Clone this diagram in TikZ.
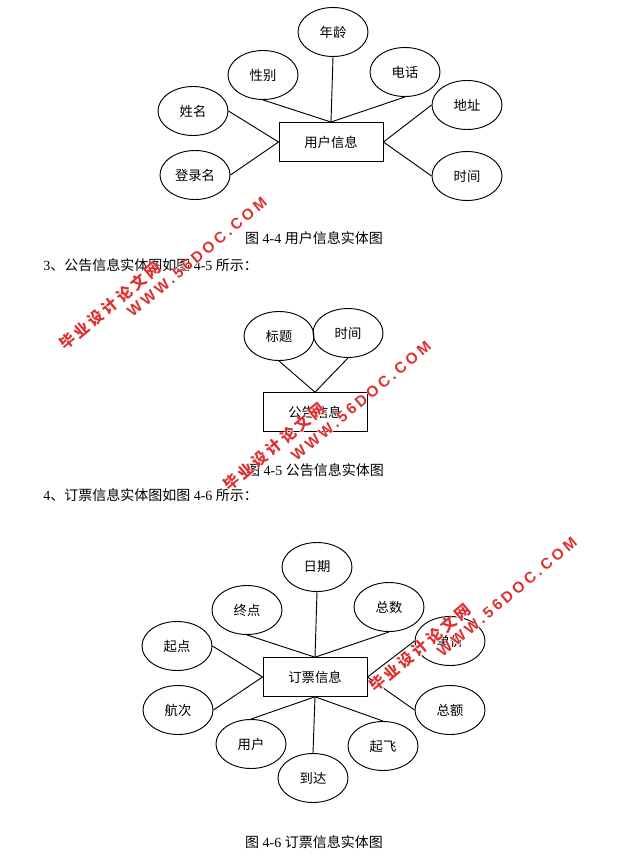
\documentclass[tikz,border=0pt]{standalone}
\usepackage{fontspec}
\setmainfont{Liberation Serif}
\newfontfamily\cjk{Noto Sans CJK SC}
\newfontfamily\wmcn[LetterSpace=20]{Noto Sans CJK SC}
\newfontfamily\wmen[LetterSpace=21]{Liberation Sans}
\newfontfamily\wmcnhalo[LetterSpace=20,FakeBold=5]{Noto Sans CJK SC}
\newfontfamily\wmenhalo[LetterSpace=21,FakeBold=5]{Liberation Sans}
\usetikzlibrary{shapes.geometric}
\definecolor{wmred}{RGB}{222,48,48}
\tikzset{
  attr/.style={draw, ellipse, line width=0.7pt, inner sep=0pt, minimum width=52.5pt, minimum height=36.75pt, font=\cjk\fontsize{10}{12}\selectfont},
  ent/.style={draw, rectangle, line width=0.7pt, inner sep=0pt, minimum width=78pt, minimum height=29pt, font=\cjk\fontsize{10}{12}\selectfont},
  link/.style={line width=0.7pt},
  bodytxt/.style={anchor=west, inner sep=0pt, font=\fontsize{10.5}{12}\selectfont},
  captxt/.style={inner sep=0pt, font=\fontsize{10.5}{12}\selectfont},
  wmcnsty/.style={rotate=40, inner sep=0pt, text=wmred, font=\wmcn\bfseries\fontsize{11.5}{13}\selectfont},
  wmensty/.style={rotate=40, inner sep=0pt, text=wmred, font=\wmen\bfseries\fontsize{11.5}{13}\selectfont},
  wmcnhalosty/.style={rotate=40, inner sep=0pt, text=white, font=\wmcnhalo\bfseries\fontsize{11.5}{13}\selectfont},
  wmenhalosty/.style={rotate=40, inner sep=0pt, text=white, font=\wmenhalo\bfseries\fontsize{11.5}{13}\selectfont}
}
\begin{document}
\begin{tikzpicture}[x=0.75pt,y=-0.75pt]
\useasboundingbox (0,0) rectangle (636,867);
\fill[white] (0,0) rectangle (636,867);

% ---- Figure 4-4 ----
\node[ent, minimum height=29.25pt] (u) at (331,142) {用户信息};
\node[attr] (nl) at (333,32) {年龄};
\node[attr] (xb) at (263,75) {性别};
\node[attr] (dh) at (405,72) {电话};
\node[attr] (xm) at (193,111) {姓名};
\node[attr] (dl) at (195,175) {登录名};
\node[attr] (dz) at (467,105) {地址};
\node[attr] (sj) at (467,176) {时间};
\draw[link] (xb.south) -- (u.north);
\draw[link] (nl.south) -- (u.north);
\draw[link] (dh.south) -- (u.north);
\draw[link] (xm.east) -- (u.west);
\draw[link] (dl.east) -- (u.west);
\draw[link] (dz.west) -- (u.east);
\draw[link] (sj.west) -- (u.east);
\node[captxt] (c1) at (314,238) {{\cjk 图} 4-4 {\cjk 用户信息实体图}};

\node[bodytxt] (t1) at (43,265) {3{\cjk 、公告信息实体图如图} 4-5 {\cjk 所示：}};

% ---- Figure 4-5 ----
\node[ent] (g) at (315,412) {公告信息};
\node[attr] (bt) at (279,336) {标题};
\node[attr] (sj2) at (348,333) {时间};
\draw[link] (bt.south) -- (g.north);
\draw[link] (sj2.south) -- (g.north);
\node[captxt] (c2) at (315,470) {{\cjk 图} 4-5 {\cjk 公告信息实体图}};

\node[bodytxt] (t2) at (43,495) {4{\cjk 、订票信息实体图如图} 4-6 {\cjk 所示：}};

% ---- Figure 4-6 ----
\node[ent] (d) at (315,677) {订票信息};
\node[attr] (rq) at (317,567) {日期};
\node[attr] (zd) at (247,610) {终点};
\node[attr] (zs) at (389,607) {总数};
\node[attr] (qd) at (177,646) {起点};
\node[attr] (dj) at (450,641) {单价};
\node[attr] (hc) at (178,710) {航次};
\node[attr] (ze) at (450,710) {总额};
\node[attr] (yh) at (251,744) {用户};
\node[attr] (qf) at (383,746) {起飞};
\node[attr] (dd) at (313,778) {到达};
\draw[link] (rq.south) -- (d.north);
\draw[link] (zd.south) -- (d.north);
\draw[link] (zs.south) -- (d.north);
\draw[link] (qd.east) -- (d.west);
\draw[link] (hc.east) -- (d.west);
\draw[link] (dj.west) -- (d.east);
\draw[link] (ze.west) -- (d.east);
\draw[link] (d.south) -- (yh.north);
\draw[link] (d.south) -- (dd.north);
\draw[link] (d.south) -- (qf.north);
\node[captxt] (c3) at (314,842) {{\cjk 图} 4-6 {\cjk 订票信息实体图}};

% ---- watermarks (white halo, then red) ----
\node[wmcnhalosty] (h1a) at (110,306) {毕业设计论文网};
\node[wmenhalosty] (h1b) at (197,257) {WWW.56DOC.COM};
\node[wmcnhalosty] (h2a) at (274,447) {毕业设计论文网};
\node[wmenhalosty] (h2b) at (361,401) {WWW.56DOC.COM};
\node[wmcnhalosty] (h3a) at (420,648) {毕业设计论文网};
\node[wmenhalosty] (h3b) at (507,597) {WWW.56DOC.COM};
\node[wmcnsty] (w1a) at (110,306) {毕业设计论文网};
\node[wmensty] (w1b) at (197,257) {WWW.56DOC.COM};
\node[wmcnsty] (w2a) at (274,447) {毕业设计论文网};
\node[wmensty] (w2b) at (361,401) {WWW.56DOC.COM};
\node[wmcnsty] (w3a) at (420,648) {毕业设计论文网};
\node[wmensty] (w3b) at (507,597) {WWW.56DOC.COM};
\end{tikzpicture}
\end{document}
